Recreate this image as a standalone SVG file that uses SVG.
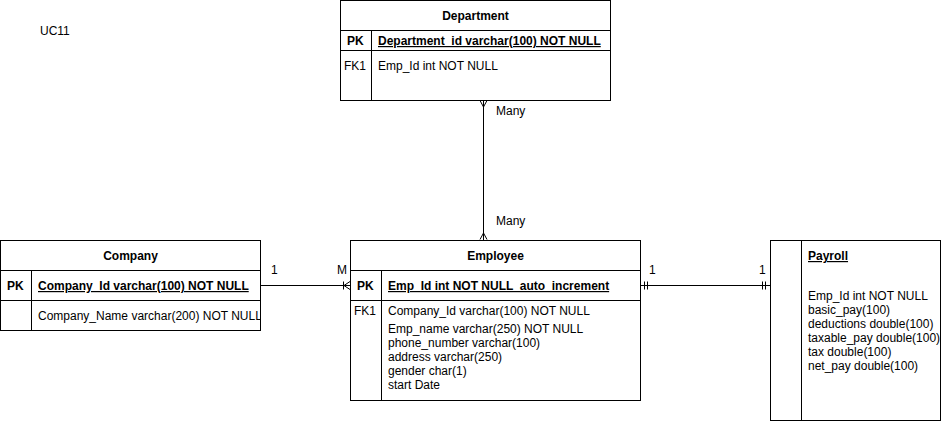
<svg xmlns="http://www.w3.org/2000/svg" width="941" height="421" viewBox="0 0 941 421">
<style>
text{font-family:"Liberation Sans",Arial,sans-serif;font-size:12px;fill:#000}
.b{font-weight:bold}
.u{text-decoration:underline}
.m{text-anchor:middle}
.box{fill:#fff;stroke:#000;stroke-width:1}
.ln{stroke:#000;stroke-width:1;fill:none}
</style>
<defs>
<clipPath id="cc"><rect x="31" y="300" width="229" height="30"/></clipPath>
</defs>
<rect width="941" height="421" fill="#fff"/>
<text x="40" y="35">UC11</text>
<g id="connectors">
<path class="ln" d="M483.5,100 V240"/>
<path class="ln" d="M480,100.5 L483.5,107 L487,100.5"/>
<path class="ln" d="M480,239.5 L483.5,233 L487,239.5"/>
<path class="ln" d="M260,285.5 H350"/>
<path class="ln" d="M343.5,281.5 V289.5 M350,281.5 L344,285.5 L350,289.5"/>
<path class="ln" d="M640,285.5 H770"/>
<path class="ln" d="M644.5,281.5 V289.5 M647.5,281.5 V289.5 M762.5,281.5 V289.5 M765.5,281.5 V289.5"/>
<text x="496" y="115">Many</text>
<text x="496" y="225">Many</text>
<text x="271" y="274">1</text>
<text x="337" y="274">M</text>
<text x="649" y="274">1</text>
<text x="759" y="274">1</text>
</g>
<g id="department">
<rect class="box" x="340.5" y="0.5" width="270" height="100"/>
<path class="ln" d="M340.5,30.5 H610.5 M340.5,50.5 H610.5 M371.5,30.5 V100.5"/>
<text class="b m" x="475.5" y="20">Department</text>
<text class="b" x="347" y="45">PK</text>
<text class="b u" x="378" y="45">Department_id varchar(100) NOT NULL</text>
<text x="344" y="70">FK1</text>
<text x="378" y="70">Emp_Id int NOT NULL</text>
</g>
<g id="company">
<rect class="box" x="0.5" y="240.5" width="260" height="90"/>
<path class="ln" d="M0.5,270.5 H260.5 M0.5,300.5 H260.5 M31.5,270.5 V330.5"/>
<text class="b m" x="130.5" y="260">Company</text>
<text class="b" x="7" y="290">PK</text>
<text class="b u" x="38" y="290">Company_Id varchar(100) NOT NULL</text>
<text x="38" y="320" clip-path="url(#cc)">Company_Name varchar(200) NOT NULL</text>
</g>
<g id="employee">
<rect class="box" x="350.5" y="240.5" width="290" height="160"/>
<path class="ln" d="M350.5,270.5 H640.5 M350.5,300.5 H640.5 M381.5,270.5 V400.5"/>
<text class="b m" x="495.5" y="260">Employee</text>
<text class="b" x="357" y="290">PK</text>
<text class="b u" x="388" y="290" xml:space="preserve">Emp_Id int NOT NULL  auto_increment</text>
<text x="354" y="315">FK1</text>
<text x="388" y="315">Company_Id varchar(100) NOT NULL</text>
<text x="388" y="333">Emp_name varchar(250) NOT NULL</text>
<text x="388" y="347">phone_number varchar(100)</text>
<text x="388" y="361">address varchar(250)</text>
<text x="388" y="375">gender char(1)</text>
<text x="388" y="389">start Date</text>
</g>
<g id="payroll">
<rect class="box" x="770.5" y="240.5" width="170" height="180"/>
<path class="ln" d="M801.5,240.5 V420.5"/>
<text class="b u" x="808" y="260">Payroll</text>
<text x="808" y="300">Emp_Id int NOT NULL</text>
<text x="808" y="314">basic_pay(100)</text>
<text x="808" y="328">deductions double(100)</text>
<text x="808" y="342">taxable_pay double(100)</text>
<text x="808" y="356">tax double(100)</text>
<text x="808" y="370">net_pay double(100)</text>
</g>
</svg>
